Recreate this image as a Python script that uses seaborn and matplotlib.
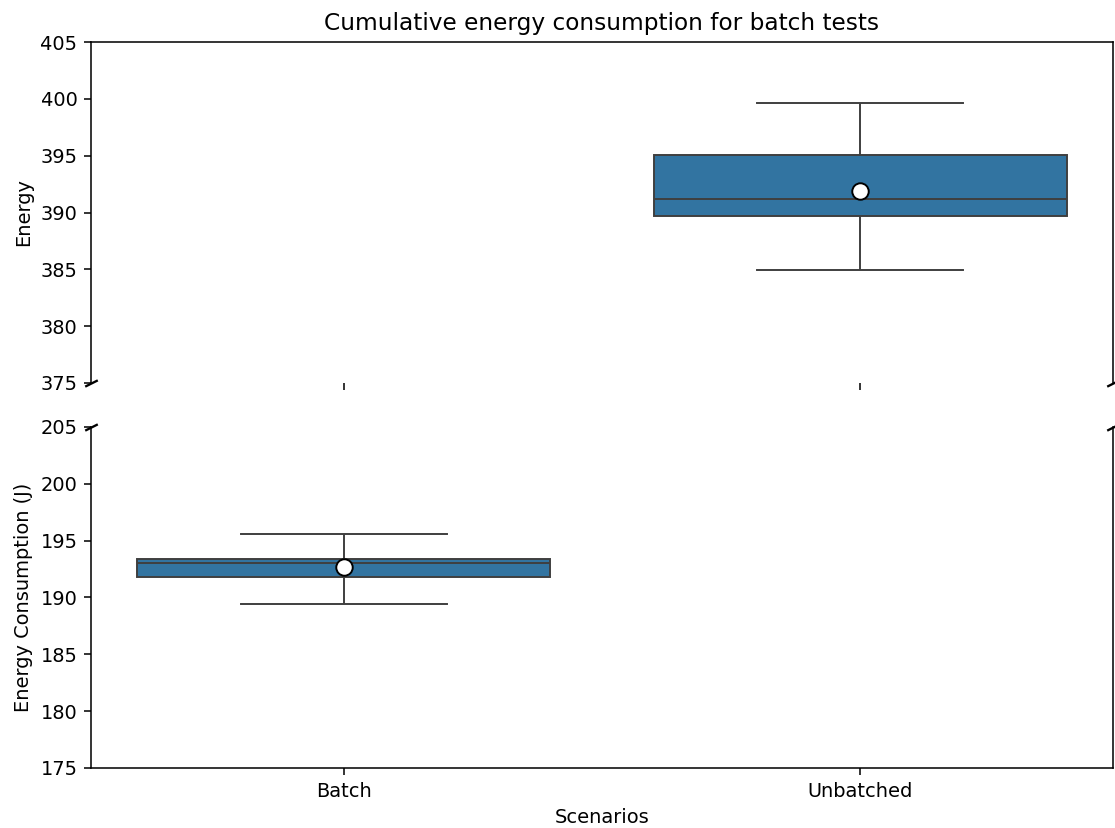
import numpy as np
import pandas as pd
import matplotlib
matplotlib.use("Agg")
import matplotlib.pyplot as plt
import seaborn as sns

# Per-run cumulative energy (J) for each scenario
scenarios = ["Batch", "Unbatched"]
batch_energy = [189.4, 190.0, 191.8, 192.5, 193.0, 193.2, 193.4, 195.4, 195.6]
unbatched_energy = [384.9, 386.0, 389.7, 390.2, 391.2, 392.4, 395.1, 398.0, 399.6]

df = pd.DataFrame({
    "Scenarios": [scenarios[0]] * len(batch_energy) + [scenarios[1]] * len(unbatched_energy),
    "Energy": batch_energy + unbatched_energy,
})

dpi = 139.375
fig = plt.figure(figsize=(1115 / dpi, 828 / dpi), dpi=dpi)
ax_top = fig.add_axes([91 / 1115, 1 - 383 / 828, 1022 / 1115, 341 / 828])
ax_bot = fig.add_axes([91 / 1115, 1 - 768 / 828, 1022 / 1115, 341 / 828], sharex=ax_top)

box_kw = dict(
    data=df, x="Scenarios", y="Energy", order=scenarios,
    whis=(0, 100), showmeans=True, width=0.8,
    meanprops=dict(marker="o", markerfacecolor="white", markeredgecolor="black",
                   markersize=8.5, markeredgewidth=1.0),
)
sns.boxplot(ax=ax_top, **box_kw)
sns.boxplot(ax=ax_bot, **box_kw)

ax_top.set_ylim(375, 405)
ax_bot.set_ylim(175, 205)

ax_top.spines["bottom"].set_visible(False)
ax_bot.spines["top"].set_visible(False)
ax_top.tick_params(axis="x", labelbottom=False)
ax_top.set_xlabel("")
ax_top.set_ylabel("Energy")
ax_bot.set_ylabel("Energy Consumption (J)")
ax_bot.set_xlabel("Scenarios")
ax_top.set_title("Cumulative energy consumption for batch tests")

# Diagonal break marks between the two panels
d = 0.5
mk = dict(marker=[(-1, -d), (1, d)], markersize=6.5, linestyle="none",
          color="k", mec="k", mew=1.2, clip_on=False)
ax_top.plot([0, 1], [0, 0], transform=ax_top.transAxes, **mk)
ax_bot.plot([0, 1], [1, 1], transform=ax_bot.transAxes, **mk)

fig.savefig("out.png", dpi=dpi)
